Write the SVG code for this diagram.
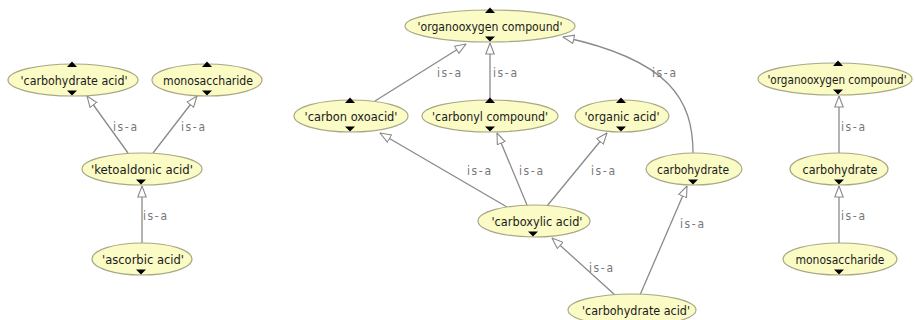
<svg xmlns="http://www.w3.org/2000/svg" xmlns:xlink="http://www.w3.org/1999/xlink" width="915" height="320" viewBox="0 0 915 320">
<style>
.n ellipse{fill:#fbfbc6;stroke:#a8a884;stroke-width:1.2}
.n text{font-family:"DejaVu Sans Condensed","DejaVu Sans",sans-serif;font-size:12px;fill:#1a1a1a;text-anchor:middle}
.e{fill:none;stroke:#8a8a8a;stroke-width:1.3;marker-end:url(#arr)}
.lbl{font-family:"DejaVu Sans Condensed","DejaVu Sans",sans-serif;font-size:12px;fill:#777}
.tri{fill:#000}
</style>
<defs>
<marker id="arr" viewBox="0 0 12 10" refX="11.5" refY="5" markerWidth="12" markerHeight="10" markerUnits="userSpaceOnUse" orient="auto">
<path d="M0.5,0.8 L11.5,5 L0.5,9.2 Z" fill="#fff" stroke="#8a8a8a" stroke-width="1.1"/>
</marker>
<path id="up" class="tri" d="M-5,3 L5,3 L0,-2.5 Z"/>
<path id="dn" class="tri" d="M-5,-5.5 L5,-5.5 L0,-0.5 Z"/>
</defs>
<rect width="915" height="320" fill="#fff"/>
<g id="edges">
<line class="e" x1="128" y1="153" x2="87" y2="96"/>
<line class="e" x1="153" y1="153" x2="197" y2="96"/>
<line class="e" x1="142" y1="243" x2="142" y2="186"/>
<line class="e" x1="375" y1="101" x2="466" y2="44"/>
<line class="e" x1="490" y1="100" x2="490" y2="43"/>
<path class="e" d="M693,153 C693,100 670,60 563,37"/>
<line class="e" x1="507" y1="207" x2="380" y2="133"/>
<line class="e" x1="527" y1="205" x2="497" y2="133"/>
<line class="e" x1="547" y1="206" x2="607" y2="133"/>
<line class="e" x1="615" y1="295" x2="552" y2="238"/>
<line class="e" x1="640" y1="295" x2="687" y2="186"/>
<line class="e" x1="839" y1="153" x2="839" y2="96"/>
<line class="e" x1="839" y1="243" x2="839" y2="186"/>
<text class="lbl" x="113" y="131" textLength="24">is-a</text>
<text class="lbl" x="181" y="131" textLength="24">is-a</text>
<text class="lbl" x="143" y="220" textLength="24">is-a</text>
<text class="lbl" x="437" y="77" textLength="24">is-a</text>
<text class="lbl" x="493" y="77" textLength="24">is-a</text>
<text class="lbl" x="652" y="77" textLength="24">is-a</text>
<text class="lbl" x="467" y="175" textLength="24">is-a</text>
<text class="lbl" x="519" y="175" textLength="24">is-a</text>
<text class="lbl" x="591" y="175" textLength="24">is-a</text>
<text class="lbl" x="589" y="272" textLength="24">is-a</text>
<text class="lbl" x="680" y="228" textLength="24">is-a</text>
<text class="lbl" x="841" y="131" textLength="24">is-a</text>
<text class="lbl" x="841" y="220" textLength="24">is-a</text>
</g>
<g id="l-carbohydrate-acid" class="n"><ellipse cx="73" cy="80" rx="65" ry="16"/><text x="74" y="84.5" textLength="107" lengthAdjust="spacingAndGlyphs">'carbohydrate acid'</text><use xlink:href="#up" x="72" y="64"/><use xlink:href="#dn" x="72" y="96"/></g>
<g id="l-monosaccharide" class="n"><ellipse cx="207" cy="80" rx="55" ry="16"/><text x="208" y="84.5" textLength="90" lengthAdjust="spacingAndGlyphs">monosaccharide</text><use xlink:href="#up" x="207" y="64"/><use xlink:href="#dn" x="207" y="96"/></g>
<g id="l-ketoaldonic-acid" class="n"><ellipse cx="142" cy="169" rx="60" ry="16"/><text x="142" y="173.5" textLength="102" lengthAdjust="spacingAndGlyphs">'ketoaldonic acid'</text><use xlink:href="#dn" x="141" y="185"/></g>
<g id="l-ascorbic-acid" class="n"><ellipse cx="142" cy="259" rx="50" ry="16"/><text x="143" y="263.5" textLength="82" lengthAdjust="spacingAndGlyphs">'ascorbic acid'</text><use xlink:href="#dn" x="141" y="275"/></g>
<g id="m-organooxygen-compound" class="n"><ellipse cx="490" cy="26" rx="85" ry="16"/><text x="490" y="30.5" textLength="145" lengthAdjust="spacingAndGlyphs">'organooxygen compound'</text><use xlink:href="#up" x="490" y="10"/><use xlink:href="#dn" x="490" y="42"/></g>
<g id="m-carbon-oxoacid" class="n"><ellipse cx="351" cy="116" rx="57" ry="16"/><text x="351" y="120.5" textLength="93" lengthAdjust="spacingAndGlyphs">'carbon oxoacid'</text><use xlink:href="#up" x="350" y="100"/><use xlink:href="#dn" x="350" y="132"/></g>
<g id="m-carbonyl-compound" class="n"><ellipse cx="490" cy="116" rx="68" ry="16"/><text x="490" y="120.5" textLength="116" lengthAdjust="spacingAndGlyphs">'carbonyl compound'</text><use xlink:href="#up" x="490" y="100"/><use xlink:href="#dn" x="490" y="132"/></g>
<g id="m-organic-acid" class="n"><ellipse cx="622" cy="116" rx="47" ry="16"/><text x="622" y="120.5" textLength="75" lengthAdjust="spacingAndGlyphs">'organic acid'</text><use xlink:href="#up" x="621" y="100"/><use xlink:href="#dn" x="621" y="132"/></g>
<g id="m-carboxylic-acid" class="n"><ellipse cx="534" cy="221" rx="56" ry="16"/><text x="537" y="225.5" textLength="91" lengthAdjust="spacingAndGlyphs">'carboxylic acid'</text><use xlink:href="#dn" x="533" y="237"/></g>
<g id="m-carbohydrate" class="n"><ellipse cx="694" cy="169" rx="48" ry="16"/><text x="693" y="173.5" textLength="72" lengthAdjust="spacingAndGlyphs">carbohydrate</text><use xlink:href="#dn" x="693" y="185"/></g>
<g id="m-carbohydrate-acid" class="n"><ellipse cx="632" cy="310" rx="64" ry="16"/><text x="636" y="314.5" textLength="108" lengthAdjust="spacingAndGlyphs">'carbohydrate acid'</text></g>
<g id="r-organooxygen-compound" class="n"><ellipse cx="835" cy="79" rx="77" ry="16"/><text x="837" y="83.5" textLength="139" lengthAdjust="spacingAndGlyphs">'organooxygen compound'</text><use xlink:href="#up" x="838" y="63"/><use xlink:href="#dn" x="838" y="95"/></g>
<g id="r-carbohydrate" class="n"><ellipse cx="839" cy="169" rx="49" ry="16"/><text x="840" y="173.5" textLength="75" lengthAdjust="spacingAndGlyphs">carbohydrate</text><use xlink:href="#dn" x="839" y="185"/></g>
<g id="r-monosaccharide" class="n"><ellipse cx="840" cy="259" rx="57" ry="16"/><text x="840" y="263.5" textLength="89" lengthAdjust="spacingAndGlyphs">monosaccharide</text><use xlink:href="#dn" x="839" y="275"/></g>
</svg>
